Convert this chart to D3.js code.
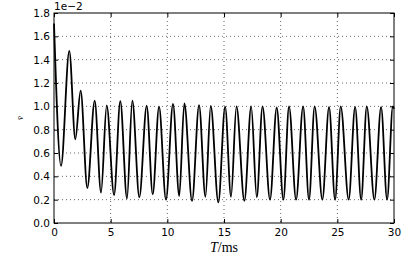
<!DOCTYPE html>
<html>
<head>
<meta charset="utf-8">
<script src="https://cdn.jsdelivr.net/npm/d3@7"></script>
<style>
  body { margin: 0; background: #fff; }
  svg { display: block; }
</style>
</head>
<body>
<div class="canvas"></div>
<script>
// extrema of the signal (time in ms, value in 1e-2)
const times = [0, 0.62, 1.35, 1.88, 2.35, 2.94, 3.59, 4.15, 4.65, 5.30,
    5.85, 6.44, 6.91, 7.53, 8.18, 8.71, 9.27, 9.88, 10.5, 11.05,
    11.5, 12.18, 12.8, 13.36, 13.83, 14.5, 15.1, 15.62, 16.1, 16.8,
    17.4, 17.89, 18.4, 19.06, 19.65, 20.24, 20.74, 21.36, 21.98, 22.5,
    23.0, 23.68, 24.27, 24.8, 25.3, 26.0, 26.57, 27.1, 27.6, 28.27,
    28.86, 29.39, 29.9, 30];
const values = [1.71, 0.49, 1.476, 0.717, 1.134, 0.30, 1.048, 0.26, 1.008, 0.24,
    1.045, 0.21, 1.048, 0.22, 1.005, 0.245, 0.997, 0.20, 1.02, 0.23,
    1.026, 0.19, 1.011, 0.225, 1.003, 0.177, 0.997, 0.225, 1.0, 0.19,
    1.0, 0.22, 1.0, 0.20, 0.99, 0.20, 1.0, 0.20, 1.0, 0.20,
    1.0, 0.20, 0.995, 0.20, 1.0, 0.20, 0.995, 0.20, 1.0, 0.20,
    0.995, 0.20, 1.0, 0.98];

const xTicks = [0, 5, 10, 15, 20, 25, 30];
const yTicks = [0, 0.2, 0.4, 0.6, 0.8, 1.0, 1.2, 1.4, 1.6, 1.8];

const W = 415, H = 257;
const pLeft = 54, pRight = 394, pTop = 13, pBottom = 223;

const svg = d3.select(".canvas").append('svg')
    .attr('width', W)
    .attr('height', H);

const x = d3.scaleLinear().domain([0, 30]).range([pLeft, pRight]);
const y = d3.scaleLinear().domain([0, 1.8]).range([pBottom, pTop]);

// grid
const grid = svg.append('g')
    .attr('stroke', '#000')
    .attr('stroke-width', 0.6)
    .attr('stroke-dasharray', '1,3');
grid.selectAll('.gx').data(xTicks.slice(1, -1)).join('line')
    .attr('x1', d => x(d)).attr('x2', d => x(d))
    .attr('y1', pTop).attr('y2', pBottom);
grid.selectAll('.gy').data(yTicks.slice(1, -1)).join('line')
    .attr('x1', pLeft).attr('x2', pRight)
    .attr('y1', d => y(d)).attr('y2', d => y(d));

// axes with inward ticks on all sides
const fmt = d3.format('.1f');
svg.append('g').attr('transform', `translate(0,${pBottom})`)
    .call(d3.axisBottom(x).tickValues(xTicks).tickSizeInner(-4).tickSizeOuter(0).tickPadding(6).tickFormat(d3.format('d')));
svg.append('g').attr('transform', `translate(0,${pTop})`)
    .call(d3.axisTop(x).tickValues(xTicks).tickSizeInner(-4).tickSizeOuter(0).tickFormat(''));
svg.append('g').attr('transform', `translate(${pLeft},0)`)
    .call(d3.axisLeft(y).tickValues(yTicks).tickSizeInner(-4).tickSizeOuter(0).tickPadding(4).tickFormat(fmt));
svg.append('g').attr('transform', `translate(${pRight},0)`)
    .call(d3.axisRight(y).tickValues(yTicks).tickSizeInner(-4).tickSizeOuter(0).tickFormat(''));

svg.selectAll('.domain').remove();
svg.selectAll('.tick line').attr('stroke', '#000').attr('stroke-width', 1);
svg.selectAll('.tick text')
    .attr('fill', '#000')
    .style('font-family', 'DejaVu Sans')
    .style('font-size', '10.5px');

// signal
const line = d3.line()
    .x((d, i) => x(times[i]))
    .y(d => y(d))
    .curve(d3.curveMonotoneX);

svg.append('path')
    .datum(values)
    .attr('fill', 'none')
    .attr('stroke', '#000')
    .attr('stroke-width', 1.8)
    .attr('stroke-linejoin', 'round')
    .attr('d', line);

// frame
svg.append('rect')
    .attr('x', pLeft).attr('y', pTop)
    .attr('width', pRight - pLeft).attr('height', pBottom - pTop)
    .attr('fill', 'none')
    .attr('stroke', '#000')
    .attr('stroke-width', 1);

// offset text
svg.append('text')
    .attr('x', pLeft).attr('y', 10)
    .style('font-family', 'DejaVu Sans')
    .style('font-size', '10.5px')
    .text('1e\u22122');

// axis labels
const xl = svg.append('text')
    .attr('x', (pLeft + pRight) / 2).attr('y', 252)
    .attr('text-anchor', 'middle')
    .style('font-family', 'Liberation Serif')
    .style('font-size', '14px');
xl.append('tspan').style('font-style', 'italic').text('T');
xl.append('tspan').text('/ms');

svg.append('text')
    .attr('transform', `translate(23,${(pTop + pBottom) / 2}) rotate(-90)`)
    .attr('text-anchor', 'middle')
    .style('font-family', 'Liberation Serif')
    .style('font-style', 'italic')
    .style('font-size', '9px')
    .text('v\u0304');
</script>
</body>
</html>
